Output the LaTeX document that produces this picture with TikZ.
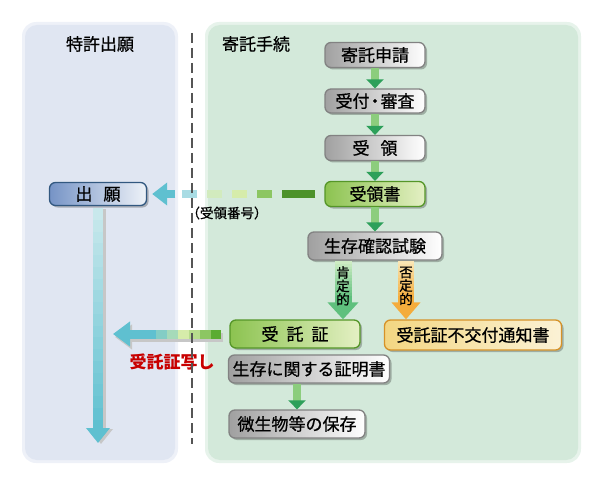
\documentclass[tikz,border=0pt]{standalone}
\usepackage{fontspec}
\setmainfont{Noto Sans CJK JP}
\newfontfamily\heavyjp[RawFeature={embolden=0.7}]{Noto Sans CJK JP}
\usetikzlibrary{arrows.meta, positioning, calc, shadows}

\definecolor{leftpanel}{RGB}{224, 230, 242}
\definecolor{rightpanel}{RGB}{211, 233, 218}
\definecolor{divgray}{RGB}{85, 85, 85}
\definecolor{boxgray}{RGB}{160, 160, 160}
\definecolor{boxrim}{RGB}{130, 130, 130}
\definecolor{leafgreen}{RGB}{140, 195, 80}
\definecolor{leafpale}{RGB}{228, 240, 196}
\definecolor{leafrim}{RGB}{85, 150, 40}
\definecolor{ambera}{RGB}{243, 214, 130}
\definecolor{amberpale}{RGB}{251, 242, 214}
\definecolor{amberrim}{RGB}{214, 146, 40}
\definecolor{skyblue1}{RGB}{118, 148, 198}
\definecolor{skypale}{RGB}{238, 242, 248}
\definecolor{skyrim}{RGB}{50, 88, 128}
\definecolor{flowlight}{RGB}{140, 205, 125}
\definecolor{flowdark}{RGB}{45, 160, 90}
\definecolor{arrcyan}{RGB}{95, 192, 208}
\definecolor{arrpale}{RGB}{214, 236, 170}
\definecolor{arrgreen}{RGB}{90, 172, 50}
\definecolor{cyanpale}{RGB}{200, 232, 236}
\definecolor{yespale}{RGB}{205, 236, 195}
\definecolor{yesdark}{RGB}{95, 192, 125}
\definecolor{nopale}{RGB}{250, 230, 180}
\definecolor{nodark}{RGB}{244, 172, 60}
\definecolor{copyred}{RGB}{200, 0, 0}

\newcommand{\boxtxt}{\heavyjp\fontsize{17}{19}\selectfont}
\newcommand{\smalltxt}{\heavyjp\fontsize{13.5}{13.5}\selectfont}

\tikzset{
  stepbox/.style={rounded corners=6pt, draw=boxrim, line width=1.3pt, left color=boxgray, right color=white,
    inner sep=0pt, minimum height=25pt, font=\boxtxt,
    drop shadow={shadow xshift=2pt, shadow yshift=-2pt, fill=black, opacity=0.25}},
  greenbox/.style={stepbox, draw=leafrim, left color=leafgreen, right color=leafpale},
  amberbox/.style={stepbox, draw=amberrim, left color=ambera, right color=amberpale},
  skybox/.style={stepbox, draw=skyrim, left color=skyblue1, right color=skypale},
  flowstep/.style={line width=8pt, flowlight, -{Triangle[length=9pt, width=17pt, color=flowdark]}}
}

\begin{document}
\begin{tikzpicture}[x=1pt, y=-1pt]
  \useasboundingbox (0,0) rectangle (600,484);

  % Panels
  \fill[leftpanel!55!white, rounded corners=14pt] (22,22) rectangle (178,463);
  \fill[leftpanel, rounded corners=12pt] (25,25) rectangle (175,460);
  \fill[rightpanel!55!white, rounded corners=14pt] (205,22) rectangle (581,463);
  \fill[rightpanel, rounded corners=12pt] (208,25) rectangle (578,460);

  % Titles
  \node[font=\boxtxt] (ttlpat) at (100,44) {特許出願};
  \node[font=\boxtxt] (ttldep) at (256,44) {寄託手続};

  % Deposit steps
  \node[stepbox, minimum width=100pt] (req) at (375,55) {寄託申請};
  \node[stepbox, minimum width=100pt, minimum height=24pt] (chk) at (375,101) {受付\hspace{-3pt}・\hspace{-3pt}審査};
  \node[stepbox, minimum width=100pt] (rcv) at (375,148) {受\hspace{11pt}領};
  \node[greenbox, minimum width=100pt] (rcpt) at (375,194) {受領書};
  \node[stepbox, minimum width=134pt, minimum height=28pt] (test) at (375,246) {生存確認試験};
  \node[greenbox, minimum width=130pt, minimum height=28pt] (juta) at (295,334) {受\hspace{8pt}託\hspace{8pt}証};
  \node[amberbox, minimum width=177pt, minimum height=30pt] (rej) at (473,335) {受託証不交付通知書};
  \node[stepbox, minimum width=161pt, minimum height=28pt] (cert) at (309,369) {生存に関する証明書};
  \node[stepbox, minimum width=136pt, minimum height=28pt] (keep) at (297,424) {微生物等の保存};

  % Patent application
  \node[skybox, minimum width=97pt, minimum height=23pt] (app) at (98,194) {出\hspace{11pt}願};

  % Step arrows
  \draw[flowstep] (req) -- (chk);
  \draw[flowstep] (chk) -- (rcv);
  \draw[flowstep] (rcv) -- (rcpt);
  \draw[flowstep] (rcpt.south) -- (rcpt.south |- test.north);
  \draw[flowstep] (keep.north |- cert.south) -- (keep.north);

  % Test results
  \coordinate (yesfrom) at ($(test.south)+(-32,0)$);
  \coordinate (yesto) at (yesfrom |- juta.north);
  \foreach \k in {0,...,11} {
    \pgfmathtruncatemacro\p{100-\k*8}
    \draw[color=yespale!\p!yesdark, line width=17pt] ($(yesfrom)!\k/20!(yesto)$) -- ($(yesfrom)!{(\k+1)/20}!(yesto)$);
  }
  \draw[yesdark, line width=17pt, -{Triangle[length=17pt, width=30pt]}] ($(yesfrom)!0.6!(yesto)$) -- (yesto);
  \node[font=\smalltxt, align=center, inner sep=0pt] (yeslbl) at ($(yesfrom)!0.43!(yesto)$) {肯\\定\\的};

  \coordinate (nofrom) at ($(test.south)+(31,0)$);
  \coordinate (noto) at (nofrom |- rej.north);
  \foreach \k in {0,...,11} {
    \pgfmathtruncatemacro\p{100-\k*8}
    \draw[color=nopale!\p!nodark, line width=16pt] ($(nofrom)!\k/20!(noto)$) -- ($(nofrom)!{(\k+1)/20}!(noto)$);
  }
  \draw[nodark, line width=16pt, -{Triangle[length=17pt, width=28pt]}] ($(nofrom)!0.6!(noto)$) -- (noto);
  \node[font=\smalltxt, align=center, inner sep=0pt] (nolbl) at ($(nofrom)!0.43!(noto)$) {否\\定\\的};

  % Receipt number back to application
  \foreach \dx/\len/\c in {9/33/arrgreen!85!black, 52/15/arrgreen!60!arrpale, 77/15/arrpale, 102/15/arrpale!70!cyanpale, 127/15/cyanpale!70!arrcyan}
    \draw[color=\c, line width=7pt] ($(rcpt.west)+(-\dx,0)$) -- ++(-\len,0);
  \draw[arrcyan, line width=7pt, -{Triangle[length=15pt, width=22pt]}, shorten >=5pt] ($(rcpt.west)+(-149,0)$) -- (app.east);
  \node[font=\smalltxt] (numlbl) at (227,213) {（受領番号）};

  % Copy of certificate
  \coordinate (copyfrom) at ($(juta.west)+(-8,0)$);
  \coordinate (copytip) at (113,334);
  \draw[black!22, line width=9pt, -{Triangle[length=17pt, width=24pt]}, transform canvas={xshift=2pt, yshift=-3pt}] (copyfrom) -- (copytip);
  \foreach \k/\c in {0/arrgreen, 1/arrgreen!60!arrpale, 2/arrgreen!25!arrpale, 3/arrpale, 4/arrpale!60!arrcyan, 5/arrpale!30!arrcyan, 6/arrcyan, 7/arrcyan}
    \draw[color=\c, line width=9pt] ($(copyfrom)!\k/10!(copytip)$) -- ($(copyfrom)!{(\k+1)/10}!(copytip)$);
  \draw[arrcyan, line width=9pt, -{Triangle[length=17pt, width=24pt]}] ($(copyfrom)!0.8!(copytip)$) -- (copytip);
  \node[font=\rmfamily\fontsize{17}{19}\selectfont\bfseries, text=copyred] (copylbl) at (172,362) {受託証写し};

  % Application flow
  \coordinate (appfrom) at ($(app.south)+(0,2)$);
  \coordinate (apptip) at (98,443);
  \draw[black!22, line width=10pt, -{Triangle[length=15pt, width=23pt]}, transform canvas={xshift=3pt, yshift=-1pt}] (appfrom) -- (apptip);
  \foreach \k in {0,...,17} {
    \pgfmathtruncatemacro\p{100-\k*5.5}
    \draw[color=cyanpale!\p!arrcyan, line width=10pt] ($(appfrom)!\k/20!(apptip)$) -- ($(appfrom)!{(\k+1)/20}!(apptip)$);
  }
  \draw[arrcyan, line width=10pt, -{Triangle[length=15pt, width=23pt]}] ($(appfrom)!0.9!(apptip)$) -- (apptip);

  % Divider
  \draw[divgray, line width=2.5pt, dash pattern=on 10pt off 5pt] (192,33) -- (192,444);
\end{tikzpicture}
\end{document}
